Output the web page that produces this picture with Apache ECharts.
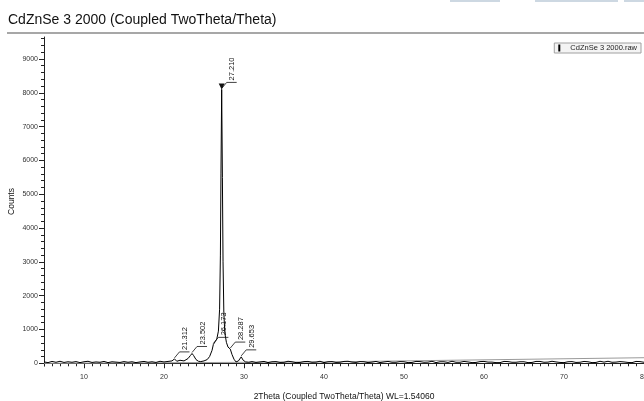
<!DOCTYPE html>
<html><head><meta charset="utf-8">
<script src="https://cdn.jsdelivr.net/npm/echarts@6/dist/echarts.min.js"></script>
<style>html,body{margin:0;padding:0;background:#fff}#c{width:644px;height:401px}</style>
</head><body><div id="c"></div>
<script>
var titleText = 'CdZnSe 3 2000 (Coupled TwoTheta/Theta)';
var seriesName = 'CdZnSe 3 2000.raw';
var xName = '2Theta (Coupled TwoTheta/Theta) WL=1.54060';
var yName = 'Counts';
var xTicks = [10, 20, 30, 40, 50, 60, 70, 80];
var yTicks = [0, 1000, 2000, 3000, 4000, 5000, 6000, 7000, 8000, 9000];

var twoTheta = [5,5.5,6,6.5,7,7.5,8,8.5,9,9.5,10,10.5,11,11.5,12,12.5,13,13.5,14,14.5,15,15.5,16,16.5,17,17.5,18,18.5,19,19.5,20,20.5,21,
  21.312,21.6,22,22.5,23,23.3,23.502,23.7,24,24.3,24.6,25,25.4,25.7,26,26.173,26.4,26.6,26.8,26.95,27.05,27.12,27.21,27.3,27.38,27.48,27.6,27.8,28,28.287,28.5,28.75,29,29.3,29.653,29.9,30.2,30.6,31,31.5,
  32,32.5,33,33.5,34,34.5,35,35.5,36,36.5,37,37.5,38,38.5,39,39.5,40,40.5,41,41.5,42,42.5,43,43.5,44,44.5,45,45.5,46,46.5,47,47.5,48,48.5,49,49.5,50,
  50.5,51,51.5,52,52.5,53,53.5,54,54.5,55,55.5,56,56.5,57,57.5,58,58.5,59,59.5,60,60.5,61,61.5,62,62.5,63,63.5,64,64.5,65,65.5,66,66.5,67,67.5,68,68.5,69,69.5,70,
  70.5,71,71.5,72,72.5,73,73.5,74,74.5,75,75.5,76,76.5,77,77.5,78,78.5,79,79.5,80];
var counts = [40,20,55,30,60,25,45,30,50,20,45,60,25,40,30,55,20,45,35,25,50,30,45,20,40,55,30,45,25,60,40,55,70,
  130,60,90,70,140,230,290,230,110,60,50,70,110,200,380,560,640,720,950,1600,3200,5600,8100,5500,3000,1500,900,620,480,420,260,120,40,70,190,90,40,30,50,25,
  40,55,20,45,50,25,30,60,45,20,25,50,55,30,35,60,20,45,50,25,30,55,60,35,25,50,45,20,35,55,20,40,55,30,30,50,45,
  20,25,55,50,30,35,60,20,45,45,25,60,30,30,55,40,20,25,50,55,35,35,20,20,55,50,30,30,45,45,20,25,55,55,30,35,60,40,25,20,45,
  50,25,30,55,45,20,25,60,35,60,30,35,50,40,25,20,55,50,30,35];
var bgTheta = [5, 40, 80];
var bgCounts = [0, 40, 165];
var peakTheta = [21.312, 23.502, 26.173, 27.210, 28.287, 29.653];
var peakCounts = [130, 290, 560, 8100, 420, 190];
var peakLabels = ['21.312', '23.502', '26.173', '27.210', '28.287', '29.653'];
var peakMarked = [false, false, false, true, false, false];

var lineData = twoTheta.map(function (t, i) { return [t, counts[i]]; });
var bgData = bgTheta.map(function (t, i) { return [t, bgCounts[i]]; });
var peakData = peakTheta.map(function (t, i) { return [t, peakCounts[i], i]; });
var yMinor = [];
for (var v = 0; v <= 9600; v += 200) { if (v % 1000 !== 0) yMinor.push(v); }
var xMinor = [];
for (var t = 5; t <= 80; t += 1) { if (t % 10 !== 0) xMinor.push(t); }

var FONT = '"Liberation Sans", Arial, sans-serif';
var chart = echarts.init(document.getElementById('c'), null, {renderer: 'canvas'});
var axisLabelStyle = {fontSize: 7, color: '#333', fontFamily: FONT};
chart.setOption({
  animation: false,
  backgroundColor: '#fff',
  title: {text: titleText, left: 8, top: 13, padding: 0, textStyle: {fontSize: 14, fontWeight: 'normal', color: '#111', fontFamily: FONT}},
  graphic: [
    {type: 'line', shape: {x1: 7, y1: 33, x2: 644, y2: 33}, style: {stroke: '#8a8a8a', lineWidth: 1.5}},
    {type: 'rect', shape: {x: 450, y: 0, width: 50, height: 2}, style: {fill: '#cdd8e2'}},
    {type: 'rect', shape: {x: 535, y: 0, width: 83, height: 2}, style: {fill: '#cdd8e2'}},
    {type: 'rect', shape: {x: 624, y: 0, width: 20, height: 2}, style: {fill: '#cdd8e2'}}
  ],
  legend: {
    right: 3, top: 43, data: [seriesName], icon: 'rect', itemWidth: 2, itemHeight: 7, itemGap: 4,
    padding: [1, 4, 1, 4], borderColor: '#a0a0a0', borderWidth: 1, backgroundColor: '#f4f4f4',
    textStyle: {fontSize: 7.5, color: '#222', fontFamily: FONT, padding: [0, 0, 0, 5]}
  },
  grid: {left: 44, right: 0, top: 37, bottom: 35, containLabel: false, outerBoundsMode: 'none'},
  xAxis: [{
    type: 'value', min: 5, max: 80,
    name: xName, nameLocation: 'middle', nameGap: 26, nameMoveOverlap: false,
    nameTextStyle: {fontSize: 8.5, color: '#111', fontFamily: FONT},
    axisLine: {lineStyle: {color: '#222', width: 1}},
    axisTick: {customValues: xTicks, length: 5, lineStyle: {color: '#222'}},
    axisLabel: {customValues: xTicks, margin: 8, ...axisLabelStyle},
    splitLine: {show: false}
  }, {
    type: 'value', min: 5, max: 80, position: 'bottom', gridIndex: 0,
    axisLine: {show: false},
    axisTick: {customValues: xMinor, length: 3, lineStyle: {color: '#222'}},
    axisLabel: {show: false}, splitLine: {show: false}
  }],
  yAxis: [{
    type: 'value', min: -80, max: 9650,
    name: yName, nameLocation: 'middle', nameGap: 28, nameRotate: 90, nameMoveOverlap: false,
    nameTextStyle: {fontSize: 8.5, color: '#111', fontFamily: FONT},
    axisLine: {show: true, lineStyle: {color: '#222', width: 1}},
    axisTick: {show: true, customValues: yTicks, length: 5, lineStyle: {color: '#222'}},
    axisLabel: {customValues: yTicks, margin: 6, formatter: function (v) { return String(v); }, ...axisLabelStyle},
    splitLine: {show: false}
  }, {
    type: 'value', min: -80, max: 9650, position: 'left',
    axisLine: {show: false},
    axisTick: {show: true, customValues: yMinor, length: 3, lineStyle: {color: '#222'}},
    axisLabel: {show: false}, splitLine: {show: false}
  }],
  series: [
    {type: 'line', name: 'background', data: bgData, showSymbol: false, silent: true,
     lineStyle: {color: '#9a9a9a', width: 1}, z: 1},
    {type: 'line', name: seriesName, data: lineData, showSymbol: false, color: '#000',
     lineStyle: {color: '#000', width: 1}, z: 2},
    {type: 'custom', name: 'peaks', data: peakData, z: 3,
     renderItem: function (params, api) {
       var p = api.coord([api.value(0), api.value(1)]);
       var i = api.value(2);
       var x = p[0], y = p[1];
       var children = [
         {type: 'polyline', shape: {points: [[x, y - 1], [x + 5, y - 7], [x + 15, y - 7]]},
          style: {stroke: '#111', lineWidth: 0.8, fill: null}},
         {type: 'text', x: x + 10.5, y: y - 9, rotation: Math.PI / 2,
          style: {text: peakLabels[i], fontSize: 7.5, fontFamily: FONT, fill: '#111', align: 'left', verticalAlign: 'middle'}}
       ];
       if (peakMarked[i]) {
         children.push({type: 'polygon', shape: {points: [[x - 3, y - 6], [x + 3, y - 6], [x, y]]}, style: {fill: '#111'}});
       }
       return {type: 'group', children: children};
     }}
  ]
});
</script></body></html>
